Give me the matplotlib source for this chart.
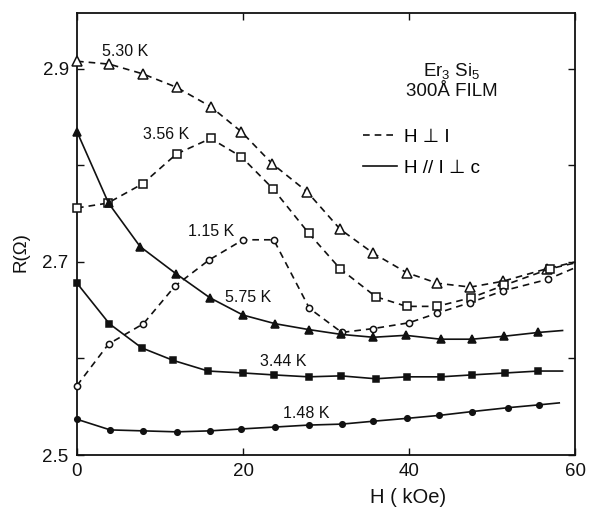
import matplotlib
matplotlib.use("Agg")
import matplotlib.pyplot as plt
from matplotlib.lines import Line2D
from matplotlib.ticker import FixedLocator, FixedFormatter

plt.rcParams['font.family'] = ['Liberation Sans', 'DejaVu Sans']
plt.rcParams['mathtext.fontset'] = 'custom'
plt.rcParams['mathtext.rm'] = 'Liberation Sans'
plt.rcParams['mathtext.it'] = 'Liberation Sans'

# H perpendicular to I (dashed, open markers); last point = end of drawn line
h_530 = [0, 3.9, 7.9, 12, 16.1, 19.8, 23.5, 27.7, 31.7, 35.7, 39.7, 43.4, 47.4, 51.3, 56.6, 60]
r_530 = [2.908, 2.905, 2.895, 2.881, 2.861, 2.835, 2.802, 2.773, 2.734, 2.709,
         2.689, 2.678, 2.674, 2.680, 2.693, 2.700]

h_356 = [0, 3.7, 7.9, 12, 16.1, 19.8, 23.6, 27.9, 31.7, 36, 39.7, 43.4, 47.5, 51.5, 57, 60]
r_356 = [2.756, 2.761, 2.781, 2.812, 2.828, 2.809, 2.776, 2.730, 2.693, 2.664,
         2.654, 2.654, 2.663, 2.676, 2.693, 2.699]

h_115 = [0, 3.8, 8, 11.8, 15.9, 20, 23.7, 28, 31.9, 35.7, 40, 43.4, 47.4, 51.3, 56.7, 60]
r_115 = [2.572, 2.615, 2.636, 2.675, 2.702, 2.723, 2.723, 2.652, 2.627, 2.631,
         2.637, 2.647, 2.658, 2.670, 2.682, 2.694]

# H parallel to I, perpendicular to c (solid, filled markers)
h_575 = [0, 3.8, 7.6, 11.9, 16, 20, 23.9, 27.9, 31.8, 35.7, 39.6, 43.8, 47.6, 51.4, 55.6, 58.5]
r_575 = [2.835, 2.761, 2.716, 2.688, 2.663, 2.645, 2.636, 2.630, 2.625, 2.622,
         2.624, 2.620, 2.620, 2.623, 2.627, 2.629]

h_344 = [0, 3.9, 7.8, 11.6, 15.8, 20, 23.7, 27.9, 31.8, 36, 39.7, 43.8, 47.6, 51.6, 55.6, 58.5]
r_344 = [2.678, 2.636, 2.611, 2.598, 2.587, 2.585, 2.583, 2.581, 2.582, 2.579,
         2.581, 2.581, 2.583, 2.585, 2.587, 2.587]

h_148 = [0, 4, 8, 12, 16, 19.8, 23.9, 27.9, 31.9, 35.7, 39.8, 43.6, 47.6, 51.9, 55.7, 58.1]
r_148 = [2.537, 2.526, 2.525, 2.524, 2.525, 2.527, 2.529, 2.531, 2.532, 2.535,
         2.538, 2.541, 2.545, 2.549, 2.552, 2.554]

# curve labels: text, H, R
labels = [("5.30 K", 5.75, 2.918), ("3.56 K", 10.7, 2.832), ("1.15 K", 16.1, 2.732),
          ("5.75 K", 20.6, 2.663), ("3.44 K", 24.9, 2.597), ("1.48 K", 27.6, 2.5435)]

y_ticks = [2.5, 2.6, 2.7, 2.8, 2.9]
y_tick_labels = ["2.5", "", "2.7", "", "2.9"]
x_ticks = [0, 20, 40, 60]

fig = plt.figure(figsize=(5.93, 5.20), dpi=100)
ax = fig.add_axes([77 / 593, 65 / 520, 498 / 593, 442 / 520])

ink = "#111111"
dash = (4, 3)


def draw(h, r, marker, ms, filled, dashed):
    line, = ax.plot(h, r, color=ink, lw=1.2, marker=marker, ms=ms,
                    mfc=ink if filled else "white", mec=ink, mew=1.1,
                    markevery=list(range(len(h) - 1)), clip_on=False, zorder=3)
    if dashed:
        line.set_dashes(dash)


draw(h_530, r_530, "^", 6.5, False, True)
draw(h_356, r_356, "s", 5.8, False, True)
draw(h_115, r_115, "o", 4.5, False, True)
draw(h_575, r_575, "^", 6, True, False)
draw(h_344, r_344, "s", 5, True, False)
draw(h_148, r_148, "o", 4, True, False)

for txt, hx, ry in labels:
    ax.text(hx, ry, txt, fontsize=11.5, ha="center", va="center", color=ink)

ax.text(45.2, 2.893, r"Er$_3$ Si$_5$", fontsize=13.5, ha="center", va="baseline", color=ink)
ax.text(45.2, 2.872, "300Å FILM", fontsize=13.5, ha="center", va="baseline", color=ink)

handles = [Line2D([], [], color=ink, lw=1.2, dashes=dash),
           Line2D([], [], color=ink, lw=1.2)]
ax.legend(handles, ["H ⊥ I", "H // I ⊥ c"], loc="upper left",
          bbox_to_anchor=(0.555, 0.76), frameon=False, borderpad=0,
          handlelength=1.8, handletextpad=0.4, labelspacing=0.75,
          prop={"family": ["Liberation Sans", "DejaVu Sans"], "size": 13.5})

ax.set_xlim(0, 60)
ax.set_ylim(2.5, 2.958)
ax.xaxis.set_major_locator(FixedLocator(x_ticks))
ax.yaxis.set_major_locator(FixedLocator(y_ticks))
ax.yaxis.set_major_formatter(FixedFormatter(y_tick_labels))
ax.tick_params(direction="in", top=True, right=True, length=5, width=1,
               labelsize=13.5, pad=6, colors=ink)
for s in ax.spines.values():
    s.set_linewidth(1.3)
    s.set_color(ink)

ax.set_xlabel("H ( kOe)", fontsize=14.5, color=ink)
ax.xaxis.set_label_coords(0.665, -0.075)
ax.set_ylabel("R(Ω)", fontsize=13.5, color=ink)
ax.yaxis.set_label_coords(-0.095, 0.46)

fig.savefig("out.png", dpi=100)
